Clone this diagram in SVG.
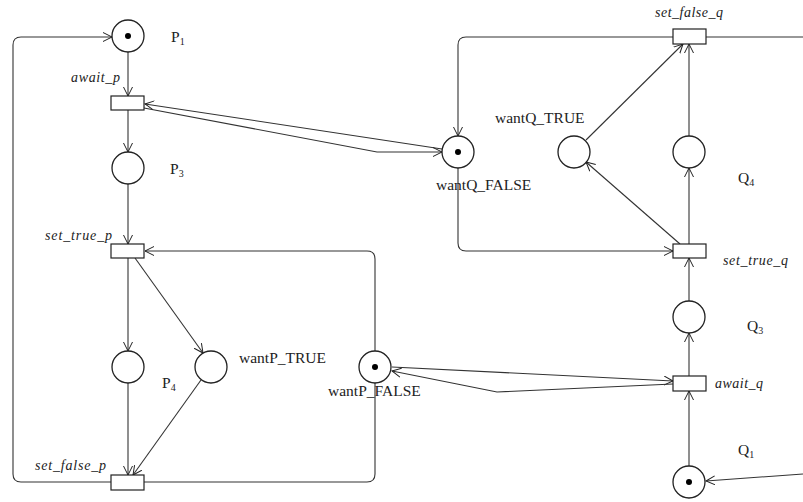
<svg xmlns="http://www.w3.org/2000/svg" width="803" height="502" viewBox="0 0 803 502">
<defs>
<marker id="arr" markerUnits="userSpaceOnUse" markerWidth="12" markerHeight="12" refX="9" refY="5" orient="auto">
<path d="M0,0.5 L9,5 L0,9.5" fill="none" stroke="#222" stroke-width="1"/>
</marker>
</defs>
<style>
.pl{fill:#fff;stroke:#222;stroke-width:1.3}
.tr{fill:#fff;stroke:#222;stroke-width:1.2}
.tok{fill:#000}
.c{fill:none;stroke:#333;stroke-width:1.1;marker-end:url(#arr)}
.cn{fill:none;stroke:#333;stroke-width:1.1}
.lb{font-family:"Liberation Serif","DejaVu Serif",serif;font-size:15.5px;fill:#222}
.sb{font-family:"Liberation Serif","DejaVu Serif",serif;font-size:10px;fill:#222}
.it{font-family:"Liberation Serif","DejaVu Serif",serif;font-size:14px;font-style:italic;fill:#222}
</style>
<rect width="803" height="502" fill="#fff"/>
<g id="connectors">
<path class="c" d="M111,482 H21 Q13,482 13,474 V45 Q13,37 21,37 H112"/>
<path class="c" d="M144,482 H367 Q375,482 375,474 V259 Q375,251 367,251 H145"/>
<path class="c" d="M673,37 H466 Q458,37 458,45 V136"/>
<path class="c" d="M458,168 V243 Q458,251 466,251 H673"/>
<path class="cn" d="M706,37 H803"/>
<path class="c" d="M803,474 L706,481"/>
<path class="c" d="M128,52 V96"/>
<path class="c" d="M128,110 V152"/>
<path class="c" d="M128,184 V244"/>
<path class="c" d="M128,258 V351"/>
<path class="c" d="M135,258 L203,353"/>
<path class="c" d="M128,383 V475"/>
<path class="c" d="M201,380 L133,475"/>
<path class="c" d="M442,149 L145,104"/>
<path class="c" d="M144,108 L377,152 H442"/>
<path class="c" d="M392,367 L673,381"/>
<path class="c" d="M673,384 L497,392 L392,371"/>
<path class="c" d="M586,140 L683,44"/>
<path class="c" d="M689,136 V44"/>
<path class="c" d="M689,244 V168"/>
<path class="c" d="M680,244 L586,162"/>
<path class="c" d="M689,301 V258"/>
<path class="c" d="M689,376 V333"/>
<path class="c" d="M689,466 V391"/>
</g>
<g id="P1"><circle class="pl" cx="128" cy="36" r="16"/><circle class="tok" cx="128" cy="36" r="3"/><text class="lb" x="171" y="42">P<tspan class="sb" dy="3">1</tspan></text></g>
<g id="await_p"><rect class="tr" x="111" y="96" width="33" height="14"/><text class="it" x="71" y="82" textLength="49">await_p</text></g>
<g id="P3"><circle class="pl" cx="128" cy="168" r="16"/><text class="lb" x="170" y="174">P<tspan class="sb" dy="3">3</tspan></text></g>
<g id="set_true_p"><rect class="tr" x="111" y="244" width="33" height="14"/><text class="it" x="45" y="240" textLength="67">set_true_p</text></g>
<g id="P4"><circle class="pl" cx="128" cy="367" r="16"/><text class="lb" x="162" y="388">P<tspan class="sb" dy="3">4</tspan></text></g>
<g id="wantP_TRUE"><circle class="pl" cx="211" cy="367" r="16"/><text class="lb" x="239" y="363">wantP_TRUE</text></g>
<g id="wantP_FALSE"><circle class="pl" cx="375" cy="367" r="16"/><circle class="tok" cx="375" cy="367" r="3"/><text class="lb" x="328" y="396">wantP_FALSE</text></g>
<g id="set_false_p"><rect class="tr" x="111" y="475" width="33" height="15"/><text class="it" x="35" y="470" textLength="71">set_false_p</text></g>
<g id="set_false_q"><rect class="tr" x="673" y="29" width="33" height="15"/><text class="it" x="655" y="17" textLength="68">set_false_q</text></g>
<g id="wantQ_FALSE"><circle class="pl" cx="458" cy="152" r="16"/><circle class="tok" cx="458" cy="152" r="3"/><text class="lb" x="436" y="190">wantQ_FALSE</text></g>
<g id="wantQ_TRUE"><circle class="pl" cx="574" cy="152" r="16"/><text class="lb" x="495" y="123">wantQ_TRUE</text></g>
<g id="Q4"><circle class="pl" cx="689" cy="152" r="16"/><text class="lb" x="738" y="183">Q<tspan class="sb" dy="3">4</tspan></text></g>
<g id="set_true_q"><rect class="tr" x="673" y="244" width="33" height="14"/><text class="it" x="723" y="265" textLength="65">set_true_q</text></g>
<g id="Q3"><circle class="pl" cx="689" cy="317" r="16"/><text class="lb" x="747" y="331">Q<tspan class="sb" dy="3">3</tspan></text></g>
<g id="await_q"><rect class="tr" x="673" y="376" width="33" height="15"/><text class="it" x="715" y="388" textLength="48">await_q</text></g>
<g id="Q1"><circle class="pl" cx="689" cy="482" r="16"/><circle class="tok" cx="689" cy="482" r="3"/><text class="lb" x="738" y="455">Q<tspan class="sb" dy="3">1</tspan></text></g>
</svg>
